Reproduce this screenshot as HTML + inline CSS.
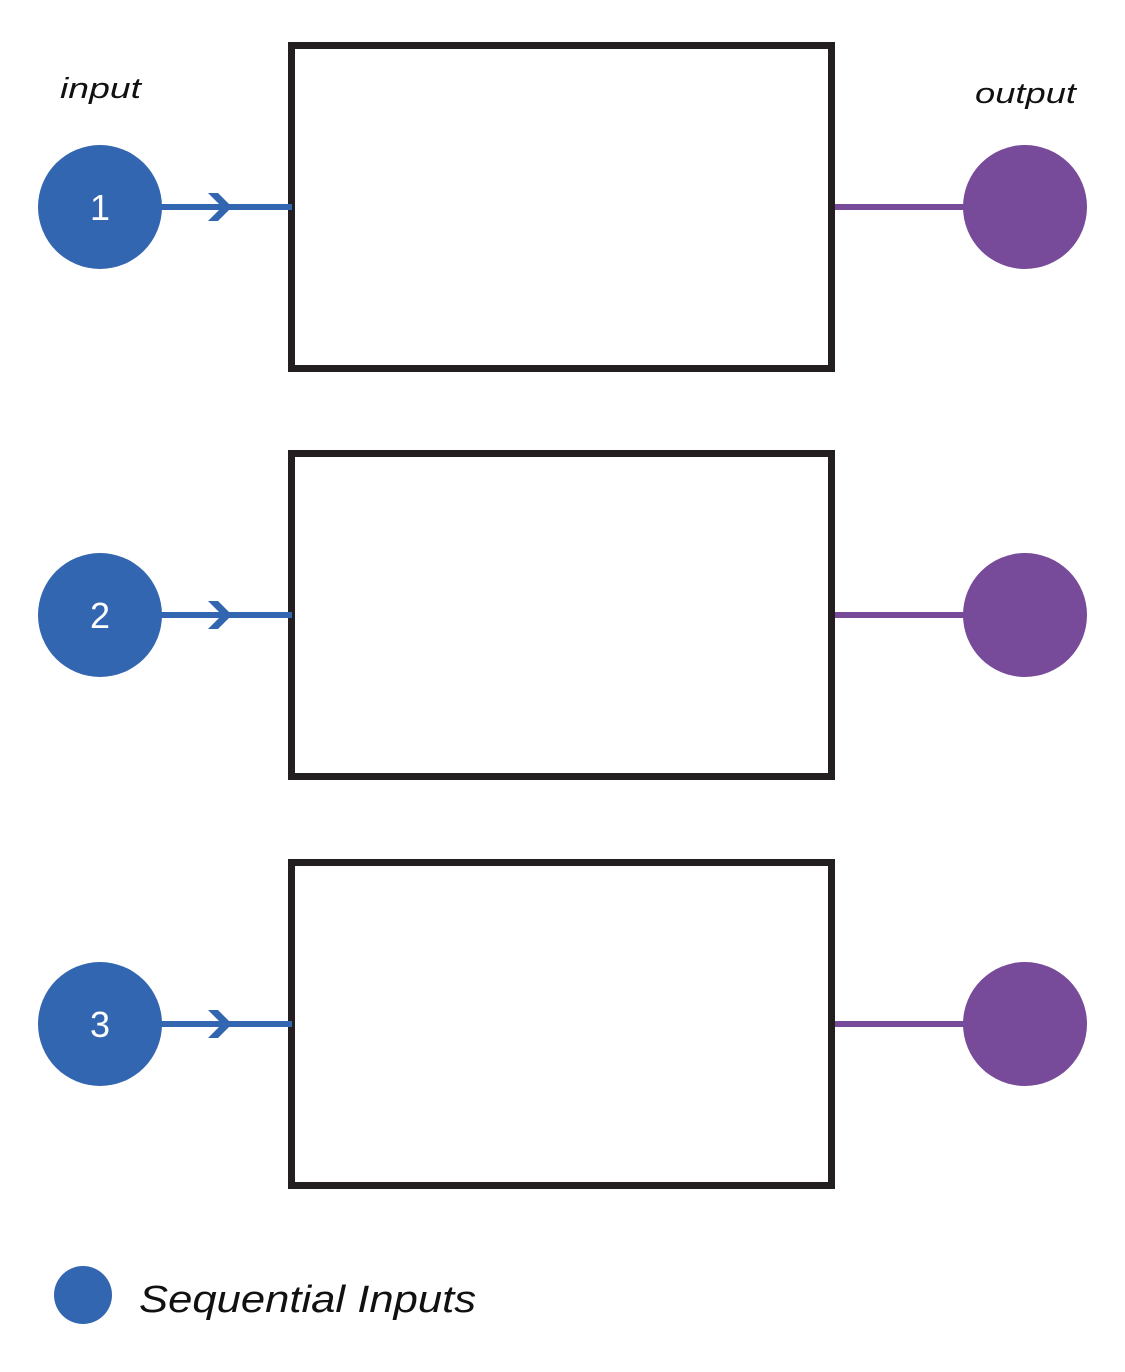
<!DOCTYPE html>
<html><head><meta charset="utf-8"><style>body{margin:0;background:#fff}svg{display:block}text{font-family:"Liberation Sans",sans-serif}.it{font-style:italic}</style></head>
<body>
<svg width="1125" height="1372" viewBox="0 0 1125 1372">
<text class="it" x="60" y="98" font-size="29" fill="#111" textLength="81" lengthAdjust="spacingAndGlyphs">input</text>
<text class="it" x="975" y="103" font-size="29" fill="#111" textLength="101" lengthAdjust="spacingAndGlyphs">output</text>
<g id="rows"></g>
<circle cx="83" cy="1295" r="29" fill="#3366b0"/>
<text class="it" x="139" y="1312" font-size="38" fill="#111" textLength="337" lengthAdjust="spacingAndGlyphs">Sequential Inputs</text>
</svg>
<script>
const steps = ["1","2","3"];
const rowCenters = [207, 615, 1024];
const NS = "http://www.w3.org/2000/svg";
const g = document.getElementById("rows");
function mk(tag, attrs){const e=document.createElementNS(NS,tag);for(const k in attrs)e.setAttribute(k,attrs[k]);g.appendChild(e);return e;}
steps.forEach((s,i)=>{
  const cy = rowCenters[i];
  const box = mk("rect",{x:291.5,y:cy-161.5,width:540,height:323,fill:"none",stroke:"#231f20","stroke-width":7});
  
  
  const ln = mk("line",{x1:160,y1:cy,x2:292,y2:cy,stroke:"#3366b0","stroke-width":6});
  
  
  const ar = mk("polygon",{points:`208,${cy-14} 218,${cy-14} 232,${cy} 218,${cy+14} 208,${cy+14} 222,${cy}`,fill:"#3366b0"});
  
  
  const ci = mk("circle",{cx:100,cy:cy,r:62,fill:"#3366b0"});
  
  
  const t = mk("text",{x:100,y:cy+13,"font-size":36,fill:"#fff","text-anchor":"middle"});
  t.textContent = s;
  
  
  const ol = mk("line",{x1:835,y1:cy,x2:970,y2:cy,stroke:"#774a9a","stroke-width":6});
  
  
  const oc = mk("circle",{cx:1025,cy:cy,r:62,fill:"#774a9a"});
  
  
});
</script>
</body></html>
